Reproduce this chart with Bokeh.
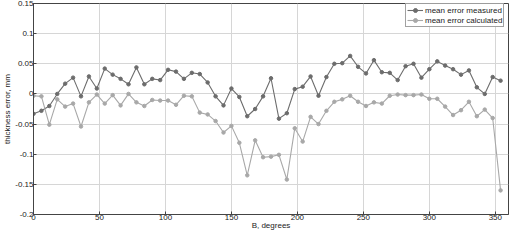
from bokeh.plotting import figure
from bokeh.models import FixedTicker, Legend, LegendItem
from bokeh.embed import file_html
from bokeh.resources import INLINE

angles = [6 * i for i in range(60)]
measured = [-0.033, -0.028, -0.020, 0.000, 0.017, 0.027, -0.004, 0.029, 0.009, 0.042,
            0.032, 0.025, 0.016, 0.044, 0.016, 0.025, 0.023, 0.040, 0.037, 0.025,
            0.035, 0.033, 0.019, -0.004, -0.019, 0.009, -0.005, -0.037, -0.025, -0.004,
            0.026, -0.041, -0.032, 0.008, 0.012, 0.029, -0.003, 0.028, 0.050, 0.051,
            0.063, 0.045, 0.034, 0.056, 0.036, 0.035, 0.023, 0.046, 0.050, 0.027,
            0.041, 0.054, 0.047, 0.041, 0.032, 0.039, 0.011, 0.000, 0.028, 0.022]
calculated = [-0.003, -0.004, -0.051, -0.009, -0.021, -0.016, -0.054, -0.014, -0.001, -0.016,
              -0.002, -0.019, 0.000, -0.014, -0.020, -0.010, -0.011, -0.011, -0.018, -0.003,
              -0.004, -0.031, -0.034, -0.045, -0.064, -0.053, -0.081, -0.135, -0.077, -0.105,
              -0.104, -0.101, -0.142, -0.057, -0.079, -0.038, -0.050, -0.028, -0.013, -0.009,
              -0.003, -0.013, -0.020, -0.014, -0.016, -0.003, -0.001, -0.002, -0.002, -0.001,
              -0.008, -0.008, -0.021, -0.035, -0.027, -0.013, -0.037, -0.026, -0.040, -0.160]

x_ticks = [0, 50, 100, 150, 200, 250, 300, 350]
y_ticks = [-0.2, -0.15, -0.1, -0.05, 0, 0.05, 0.1, 0.15]
y_tick_labels = ["-0.2", "-0.15", "-0.1", "-0.05", "0", "0.05", "0.1", "0.15"]

series_names = ["mean error measured", "mean error calculated"]
colors = ["#6c6c6c", "#a8a8a8"]

p = figure(width=510, height=234, x_range=(0, 360), y_range=(-0.2, 0.15),
           output_backend="svg", toolbar_location=None,
           min_border_left=20, min_border_right=2, min_border_top=3, min_border_bottom=20)

p.outline_line_color = "#444444"
p.outline_line_width = 1
p.background_fill_color = "white"
p.border_fill_color = "white"

p.xaxis.ticker = FixedTicker(ticks=x_ticks)
p.yaxis.ticker = FixedTicker(ticks=y_ticks)
p.yaxis.major_label_overrides = {t: l for t, l in zip(y_ticks, y_tick_labels)}
p.xaxis.major_label_overrides = {t: str(t) for t in x_ticks}

for ax in (p.xaxis, p.yaxis):
    ax.axis_line_color = "#444444"
    ax.major_tick_line_color = "#444444"
    ax.major_tick_in = 3
    ax.major_tick_out = 0
    ax.minor_tick_line_color = None
    ax.major_label_text_font = "Liberation Sans"
    ax.major_label_text_font_size = "8px"
    ax.major_label_text_color = "#222222"
    ax.axis_label_text_font = "Liberation Sans"
    ax.axis_label_text_font_size = "8px"
    ax.axis_label_text_font_style = "normal"
    ax.axis_label_text_color = "#222222"
    ax.major_label_standoff = 0
    ax.axis_label_standoff = -2

p.yaxis.major_label_standoff = 0
p.yaxis.axis_label_standoff = 0

p.xaxis.axis_label = "B, degrees"
p.yaxis.axis_label = "thickness error, mm"

p.grid.grid_line_color = "#d6d6d6"
p.grid.grid_line_width = 1
p.xgrid.ticker = FixedTicker(ticks=x_ticks)
p.ygrid.ticker = FixedTicker(ticks=y_ticks)

items = []
for name, vals, col in zip(series_names, [measured, calculated], colors):
    ln = p.line(angles, vals, line_color=col, line_width=1.1)
    sc = p.scatter(angles, vals, size=3.5, marker="circle", fill_color=col, line_color=col)
    items.append(LegendItem(label=name, renderers=[ln, sc]))

legend = Legend(items=items, location=(372, 187))
legend.label_text_font = "Liberation Sans"
legend.label_text_font_size = "8px"
legend.label_text_color = "#222222"
legend.glyph_width = 16
legend.glyph_height = 10
legend.label_height = 10
legend.spacing = 0
legend.padding = 1
legend.margin = 0
legend.label_standoff = 2
legend.border_line_color = "#444444"
legend.border_line_width = 1
legend.background_fill_color = "white"
p.add_layout(legend)

open("out.html", "w").write(file_html(p, INLINE))
